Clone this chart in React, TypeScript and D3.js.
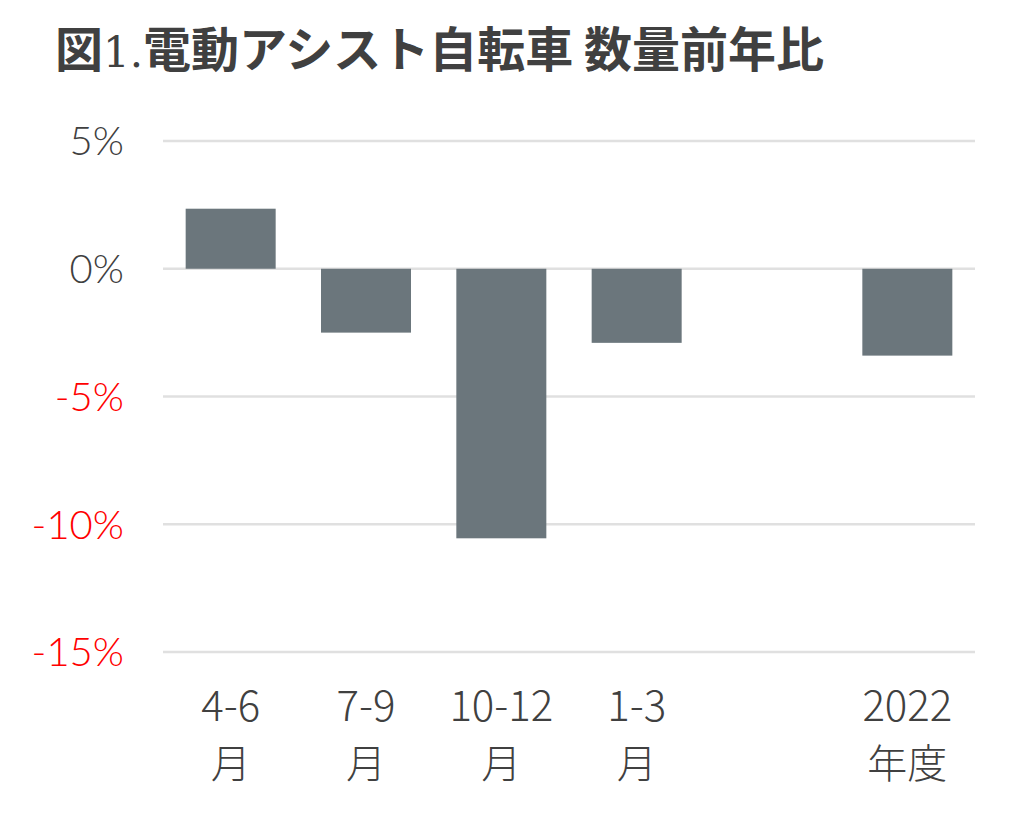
import React, { useEffect, useRef } from 'react';
import * as d3 from 'd3';

// quarterly YoY change in unit sales (%), blank slot before the fiscal-year bar
const categories = ['q1', 'q2', 'q3', 'q4', 'gap', 'fy'];
const labelTop = ['4-6', '7-9', '10-12', '1-3', '', '2022'];
const labelBottom = ['月', '月', '月', '月', '', '年度'];
const values: (number | null)[] = [2.35, -2.5, -10.55, -2.9, null, -3.4];
const yTicks = [5, 0, -5, -10, -15];

const W = 1027;
const H = 827;

const App: React.FC = () => {
  const svgRef = useRef<SVGSVGElement>(null);

  useEffect(() => {
    document.body.style.margin = '0';
    if (!svgRef.current) return;
    const svg = d3.select(svgRef.current);
    svg.selectAll('*').remove();

    const x = d3.scaleBand<string>()
      .domain(categories)
      .range([163, 975])
      .paddingInner(0.335)
      .paddingOuter(0.1675);

    const y = d3.scaleLinear()
      .domain([-15, 5])
      .range([652, 141]);

    // title
    const title = svg.append('text')
      .attr('x', 55)
      .attr('y', 67)
      .attr('fill', '#404040')
      .style('font-family', '"Noto Sans CJK JP", sans-serif')
      .style('font-size', '48px')
      .style('font-weight', 700);
    title.append('tspan').text('図');
    title.append('tspan')
      .style('font-family', '"DejaVu Serif", serif')
      .style('font-weight', 300)
      .style('font-size', '42px')
      .text('1.');
    title.append('tspan').text('電動アシスト自転車 数量前年比');

    // gridlines
    svg.append('g')
      .selectAll('line')
      .data(yTicks)
      .enter()
      .append('line')
      .attr('x1', 163)
      .attr('x2', 975)
      .attr('y1', d => y(d))
      .attr('y2', d => y(d))
      .attr('stroke', '#e0e0e0')
      .attr('stroke-width', 2.5);

    // y tick labels
    svg.append('g')
      .selectAll('text')
      .data(yTicks)
      .enter()
      .append('text')
      .attr('x', 124)
      .attr('y', d => y(d))
      .attr('dy', '0.36em')
      .attr('text-anchor', 'end')
      .attr('fill', d => (d < 0 ? '#ff0000' : '#404040'))
      .style('font-family', 'Lato, sans-serif')
      .style('font-weight', 300)
      .style('font-size', '40px')
      .text(d => `${d}%`);

    // bars
    const barData = categories
      .map((c, i) => ({ c, v: values[i] }))
      .filter(d => d.v !== null) as { c: string; v: number }[];

    svg.append('g')
      .selectAll('rect')
      .data(barData)
      .enter()
      .append('rect')
      .attr('x', d => x(d.c)!)
      .attr('width', x.bandwidth())
      .attr('y', d => y(Math.max(0, d.v)))
      .attr('height', d => Math.abs(y(d.v) - y(0)))
      .attr('fill', '#6b767c');

    // x labels
    const xl = svg.append('g')
      .attr('fill', '#404040')
      .style('font-family', '"Noto Sans CJK JP", sans-serif')
      .style('font-weight', 300);

    xl.selectAll('text.top')
      .data(categories)
      .enter()
      .append('text')
      .attr('class', 'top')
      .attr('x', d => x(d)! + x.bandwidth() / 2)
      .attr('y', 721)
      .attr('text-anchor', 'middle')
      .style('font-size', '42px')
      .text((d, i) => labelTop[i]);

    xl.selectAll('text.bottom')
      .data(categories)
      .enter()
      .append('text')
      .attr('class', 'bottom')
      .attr('x', d => x(d)! + x.bandwidth() / 2)
      .attr('y', 778)
      .attr('text-anchor', 'middle')
      .style('font-size', '40px')
      .text((d, i) => labelBottom[i]);
  }, []);

  return (
    <svg
      ref={svgRef}
      width={W}
      height={H}
      style={{ display: 'block', background: '#ffffff' }}
    />
  );
};

export default App;
